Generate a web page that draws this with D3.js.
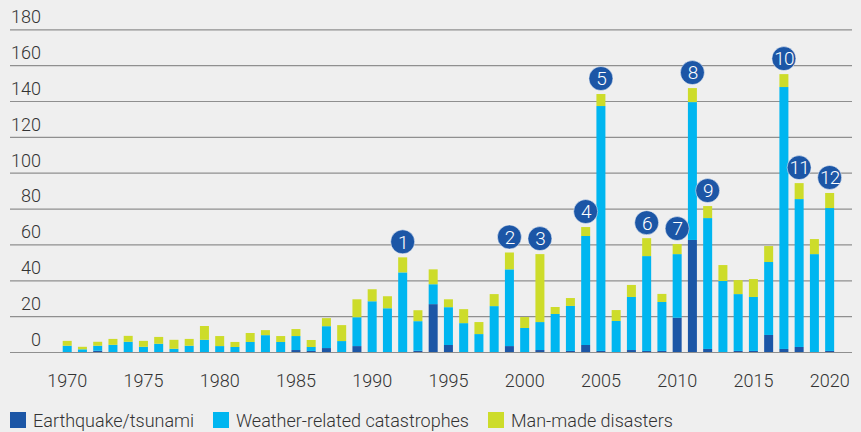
<!DOCTYPE html>
<html>
<head>
<meta charset="utf-8">
<script src="https://cdn.jsdelivr.net/npm/d3@7"></script>
<style>
  html, body { margin: 0; padding: 0; background: #efefef; }
  svg { display: block; }
  text { font-family: Roboto, "Liberation Sans", Arial, sans-serif; font-weight: 300; fill: #333; }
</style>
</head>
<body>
<svg id="chart" width="861" height="432"></svg>
<script>
const years = d3.range(1970, 2021);
const earthquake = [0,0,0.7,0,0,0,0,0,0,0,
  0,0,0,0,0,1.1,0.6,2.2,0,3.3,
  0,0,0,0.7,26.7,3.9,0,0,0,3.3,
  0,1.1,0,0.6,3.9,0.6,0,1.1,0.6,0.6,
  19.1,62.5,1.7,0,0.6,0.6,9.5,1.7,2.8,0,0.6];
const weather = [3.5,1.5,2.8,4.0,5.7,2.9,4.6,1.8,3.5,6.8,
  3.3,2.8,5.6,9.4,5.6,7.8,2.2,12.2,6.1,16.1,
  28.3,24.4,44.4,16.5,11.1,21.1,16.1,10.0,25.6,42.8,
  13.4,15.6,21.2,25.1,60.8,136.6,17.3,29.6,52.9,27.3,
  35.5,76.9,73.0,39.6,31.7,30.1,40.7,146.1,82.5,54.6,79.7];
const manmade = [2.7,1.4,2.2,3.3,3.3,3.3,3.8,5.0,3.8,7.7,
  5.6,2.8,5.0,2.8,3.3,3.9,3.9,4.5,8.9,10.0,
  6.7,6.7,8.4,6.1,8.3,4.4,7.8,6.7,6.7,9.4,
  6.1,37.9,3.9,4.4,5.0,6.7,6.1,6.7,10.0,4.5,
  5.6,7.8,6.7,8.9,7.8,10.0,8.9,7.2,8.9,8.4,8.4];
const seriesNames = ["Earthquake/tsunami", "Weather-related catastrophes", "Man-made disasters"];
const seriesKeys = ["earthquake", "weather", "manmade"];
const colors = ["#1c56a6", "#00b6f0", "#cddc2a"];
const markerYears = [1992, 1999, 2001, 2004, 2005, 2008, 2010, 2011, 2012, 2017, 2018, 2020];
const markerLabels = ["1","2","3","4","5","6","7","8","9","10","11","12"];
const yTicks = [0,20,40,60,80,100,120,140,160,180];
const xTicks = [1970,1975,1980,1985,1990,1995,2000,2005,2010,2015,2020];

const table = years.map((yr, i) => ({year: yr, earthquake: earthquake[i], weather: weather[i], manmade: manmade[i]}));

const svg = d3.select("#chart");
const x = d3.scaleBand().domain(years).range([56.45, 840.4]).padding(0.41);
const y = d3.scaleLinear().domain([0, 180]).range([352, 29.3]);

// grid + y labels
const gy = svg.append("g").attr("transform", "translate(10,0)")
  .call(d3.axisRight(y).tickValues(yTicks).tickSize(842).tickFormat(d3.format("d")));
gy.select(".domain").remove();
gy.selectAll(".tick line").attr("stroke", "#8f8f8f").attr("stroke-width", 1.2);
gy.selectAll(".tick text").attr("x", 31).attr("dy", -6.6).attr("text-anchor", "end")
  .style("font-size", "18px").attr("fill", "#333");

// bars
const stack = d3.stack().keys(seriesKeys);
const stacked = stack(table);
svg.append("g").selectAll("g").data(stacked).join("g")
  .attr("fill", (d, i) => colors[i])
  .selectAll("rect").data(d => d).join("rect")
  .attr("x", d => x(d.data.year))
  .attr("width", x.bandwidth())
  .attr("y", d => y(d[1]))
  .attr("height", d => y(d[0]) - y(d[1]));

// x axis
const gx = svg.append("g").attr("transform", "translate(0,352)")
  .call(d3.axisBottom(x).tickValues(xTicks).tickSize(0).tickPadding(22));
gx.select(".domain").remove();
gx.selectAll(".tick text").style("font-size", "18px").attr("fill", "#333");

// markers
const totals = table.map(d => d.earthquake + d.weather + d.manmade);
const mk = svg.append("g").selectAll("g").data(markerYears).join("g")
  .attr("transform", (yr) => {
    const i = years.indexOf(yr);
    return `translate(${x(yr) + x.bandwidth() / 2},${y(totals[i]) - 15.5})`;
  });
mk.append("circle").attr("r", 12).attr("fill", "#1c56a6")
  .attr("stroke", "#ffffff").attr("stroke-opacity", 0.5).attr("stroke-width", 1);
mk.append("text").text((d, i) => markerLabels[i])
  .attr("text-anchor", "middle").attr("dy", "0.36em")
  .style("font-size", "19px").style("fill", "#ffffff").style("letter-spacing", "-1px");

// legend
const legendX = [10, 213, 488];
const lg = svg.append("g").selectAll("g").data(seriesNames).join("g")
  .attr("transform", (d, i) => `translate(${legendX[i]},412)`);
lg.append("rect").attr("width", 16).attr("height", 16).attr("fill", (d, i) => colors[i]);
lg.append("text").text(d => d).attr("x", 23).attr("y", 14.5).style("font-size", "18px").attr("fill", "#333");
</script>
</body>
</html>
